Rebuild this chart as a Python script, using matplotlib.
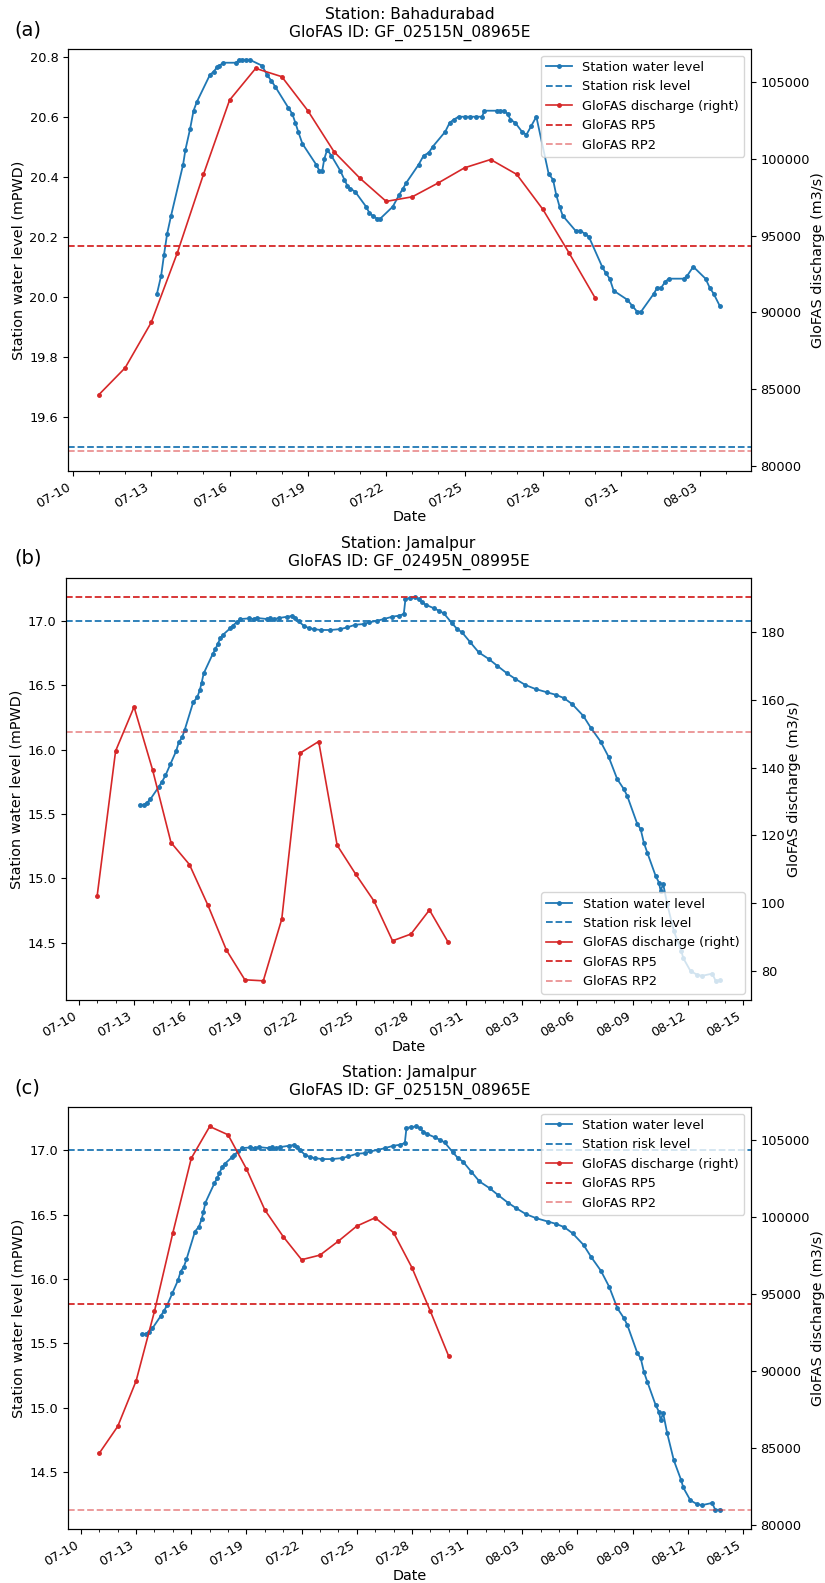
import numpy as np
import pandas as pd
import matplotlib
matplotlib.use("Agg")
import matplotlib.pyplot as plt
import matplotlib.dates as mdates
from matplotlib.ticker import FixedLocator

plt.rcParams["font.size"] = 9.3
plt.rcParams["axes.labelsize"] = 10.4

# ---------------- data ----------------
t0 = pd.Timestamp("2019-07-10")

# GloFAS daily discharge, 07-11 .. 07-30
dis_dates = pd.date_range("2019-07-11", "2019-07-30", freq="D")
dis_02515N_08965E = [84650, 86390, 89350, 93890, 99000, 103840, 105910, 105370,
                     103150, 100480, 98740, 97240, 97540, 98450, 99430, 99970,
                     99000, 96720, 93890, 90950]
dis_02495N_08995E = [102.1, 144.9, 157.9, 139.4, 117.9, 111.4, 99.4, 86.2,
                     77.4, 77.1, 95.3, 144.3, 147.7, 117.1, 108.6, 100.6,
                     88.9, 90.9, 98.0, 88.6]
rp5_08965E, rp2_08965E = 94330, 80940
rp5_08995E, rp2_08995E = 190.2, 150.4

# station water level, time given as days after 07-10 00:00
wl_bahadurabad_days = [3.22, 3.38, 3.49, 3.61, 3.76, 4.22, 4.31, 4.49, 4.62, 4.75,
                       5.25, 5.39, 5.52, 5.61, 5.75, 6.26, 6.36, 6.49, 6.64, 6.77,
                       7.25, 7.43, 7.60, 7.75, 8.25, 8.40, 8.52, 8.63, 8.79, 9.32,
                       9.44, 9.55, 9.63, 9.74, 9.90, 10.24, 10.40, 10.51, 10.63, 10.81,
                       11.23, 11.35, 11.48, 11.65, 11.77, 12.25, 12.50, 12.64, 12.77, 13.24,
                       13.43, 13.63, 13.78, 14.26, 14.43, 14.58, 14.77, 15.00, 15.22, 15.45,
                       15.67, 15.76, 16.24, 16.37, 16.50, 16.65, 16.76, 16.94, 17.20, 17.37,
                       17.56, 17.75, 18.22, 18.39, 18.51, 18.64, 18.76, 19.25, 19.44, 19.60,
                       19.76, 20.27, 20.40, 20.56, 20.71, 21.23, 21.42, 21.61, 21.76, 22.25,
                       22.38, 22.53, 22.69, 22.82, 23.40, 23.53, 23.76, 24.23, 24.39, 24.54,
                       24.77]
wl_bahadurabad = [20.01, 20.07, 20.14, 20.21, 20.27, 20.44, 20.49, 20.56, 20.62, 20.65,
                  20.74, 20.75, 20.765, 20.77, 20.78, 20.78, 20.79, 20.79, 20.79, 20.79,
                  20.77, 20.74, 20.72, 20.70, 20.63, 20.61, 20.58, 20.55, 20.51, 20.44,
                  20.42, 20.42, 20.46, 20.49, 20.47, 20.42, 20.39, 20.37, 20.36, 20.35,
                  20.30, 20.28, 20.27, 20.26, 20.26, 20.30, 20.34, 20.36, 20.38, 20.44,
                  20.47, 20.48, 20.50, 20.55, 20.58, 20.59, 20.60, 20.60, 20.60, 20.60,
                  20.60, 20.62, 20.62, 20.62, 20.62, 20.61, 20.59, 20.58, 20.55, 20.54,
                  20.57, 20.60, 20.41, 20.39, 20.34, 20.30, 20.27, 20.22, 20.22, 20.21,
                  20.20, 20.10, 20.08, 20.06, 20.02, 19.99, 19.97, 19.95, 19.95, 20.01,
                  20.03, 20.03, 20.05, 20.06, 20.06, 20.07, 20.10, 20.06, 20.03, 20.01,
                  19.97]
risk_bahadurabad = 19.50

wl_jamalpur_days = [3.31, 3.52, 3.71, 3.89, 4.34, 4.52, 4.70, 4.97, 5.28, 5.42,
                    5.60, 5.74, 6.20, 6.42, 6.56, 6.66, 6.77, 7.26, 7.41, 7.53,
                    7.68, 7.82, 8.22, 8.34, 8.55, 8.76, 9.21, 9.48, 9.67, 10.21,
                    10.39, 10.60, 10.84, 11.29, 11.56, 11.74, 11.92, 12.19, 12.46, 12.73,
                    13.10, 13.64, 14.18, 14.54, 14.99, 15.44, 15.71, 16.17, 16.53, 16.98,
                    17.34, 17.61, 17.70, 17.97, 18.24, 18.42, 18.61, 18.79, 19.24, 19.51,
                    19.78, 20.23, 20.50, 20.77, 21.22, 21.67, 22.22, 22.67, 23.21, 23.66,
                    24.20, 24.75, 25.38, 25.83, 26.28, 26.73, 27.33, 27.73, 28.27, 28.72,
                    29.17, 29.53, 29.71, 30.26, 30.44, 30.61, 30.80, 31.25, 31.43, 31.52,
                    31.66, 31.88, 32.24, 32.64, 32.75, 33.14, 33.51, 33.78, 34.32, 34.50,
                    34.73]
wl_jamalpur = [15.572, 15.572, 15.59, 15.617, 15.712, 15.753, 15.80, 15.889, 15.99, 16.057,
               16.096, 16.153, 16.368, 16.407, 16.464, 16.52, 16.593, 16.744, 16.783, 16.822,
               16.869, 16.894, 16.946, 16.964, 16.99, 17.016, 17.021, 17.016, 17.024, 17.016,
               17.021, 17.016, 17.024, 17.034, 17.04, 17.024, 16.998, 16.964, 16.946, 16.938,
               16.931, 16.931, 16.938, 16.951, 16.972, 16.977, 16.99, 17.003, 17.016, 17.034,
               17.042, 17.055, 17.172, 17.18, 17.184, 17.172, 17.145, 17.128, 17.10, 17.081,
               17.06, 16.982, 16.939, 16.912, 16.834, 16.757, 16.705, 16.653, 16.593, 16.55,
               16.503, 16.472, 16.446, 16.428, 16.402, 16.355, 16.264, 16.173, 16.064, 15.94,
               15.772, 15.694, 15.642, 15.422, 15.383, 15.279, 15.20, 15.02, 14.968, 14.904,
               14.956, 14.80, 14.59, 14.436, 14.38, 14.28, 14.25, 14.243, 14.26, 14.204,
               14.209]
risk_jamalpur = 17.00

tick_dates = pd.date_range("2019-07-10", "2019-08-15", freq="3D")


def to_time(days):
    return t0 + pd.to_timedelta(np.array(days), unit="D")


def draw_panel(rect, tag, tag_y, station, gid, wl_days, wl, risk, dis, rp5, rp2,
               legend_loc, ylim=None):
    ax = fig.add_axes(rect)
    ax2 = ax.twinx()

    ax.plot(to_time(wl_days), wl, color="tab:blue", marker=".", markersize=5,
            lw=1.3, label="Station water level")
    ax.axhline(risk, color="tab:blue", ls="--", lw=1.3, label="Station risk level")
    ax2.plot(dis_dates, dis, color="tab:red", marker=".", markersize=5, lw=1.2,
             label="GloFAS discharge (right)")
    ax2.axhline(rp5, color="tab:red", ls="--", lw=1.3, label="GloFAS RP5")
    ax2.axhline(rp2, color="tab:red", alpha=0.5, ls="--", lw=1.3, label="GloFAS RP2")

    if ylim is not None:
        ax.set_ylim(*ylim)

    ax.xaxis.set_major_locator(FixedLocator(mdates.date2num(tick_dates)))
    ax.xaxis.set_minor_locator(mdates.DayLocator())
    ax.xaxis.set_major_formatter(mdates.DateFormatter("%m-%d"))
    plt.setp(ax.get_xticklabels(), rotation=30, ha="right")

    ax.set_xlabel("Date", labelpad=0)
    ax.set_ylabel("Station water level (mPWD)", labelpad=3)
    ax2.set_ylabel("GloFAS discharge (m3/s)", labelpad=1)
    ax.set_title(f"Station: {station}\nGloFAS ID: {gid}", pad=9)

    h1, l1 = ax.get_legend_handles_labels()
    h2, l2 = ax2.get_legend_handles_labels()
    ax2.legend(h1 + h2, l1 + l2, loc=legend_loc)

    fig.text(0.018, tag_y, tag, fontsize=14, va="center", ha="left")
    return ax, ax2


fig = plt.figure(figsize=(8.25, 15.83), dpi=100)

draw_panel([0.0824, 0.7027, 0.8275, 0.2662], "(a)", 0.9812, "Bahadurabad",
           "GF_02515N_08965E", wl_bahadurabad_days, wl_bahadurabad, risk_bahadurabad,
           dis_02515N_08965E, rp5_08965E, rp2_08965E, "upper right",
           ylim=(19.42, 20.825))
draw_panel([0.0800, 0.3683, 0.8303, 0.2664], "(b)", 0.6475, "Jamalpur",
           "GF_02495N_08995E", wl_jamalpur_days, wl_jamalpur, risk_jamalpur,
           dis_02495N_08995E, rp5_08995E, rp2_08995E, "lower right")
draw_panel([0.0828, 0.0339, 0.8271, 0.2666], "(c)", 0.3129, "Jamalpur",
           "GF_02515N_08965E", wl_jamalpur_days, wl_jamalpur, risk_jamalpur,
           dis_02515N_08965E, rp5_08965E, rp2_08965E, "upper right")

fig.savefig("out.png", dpi=100)
